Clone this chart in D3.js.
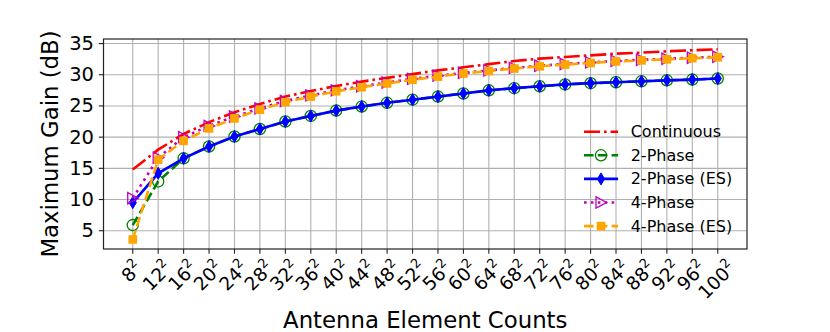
<!DOCTYPE html>
<html>
<head>
<meta charset="utf-8">
<script src="https://cdn.jsdelivr.net/npm/d3@7"></script>
<style>
  body { margin: 0; background: #fff; }
  text { font-family: "DejaVu Sans", sans-serif; fill: #000; }
</style>
</head>
<body>
<svg id="chart" width="830" height="332"></svg>
<script>
// antenna element counts (N, shown as N^2)
const counts = [8, 12, 16, 20, 24, 28, 32, 36, 40, 44, 48, 52, 56, 60, 64, 68, 72, 76, 80, 84, 88, 92, 96, 100];
const yTicks = [5, 10, 15, 20, 25, 30, 35];

const continuous = [14.8, 18.0, 20.5, 22.4, 24.0, 25.3, 26.5, 27.4, 28.2, 28.9, 29.5, 30.1, 30.7, 31.2, 31.7, 32.2, 32.58, 32.85, 33.1, 33.38, 33.55, 33.76, 33.92, 34.08];
const phase2 = [5.9, 12.9, 16.6, 18.5, 20.1, 21.3, 22.5, 23.4, 24.25, 24.9, 25.5, 26.0, 26.5, 27.0, 27.5, 27.85, 28.15, 28.45, 28.65, 28.8, 28.95, 29.1, 29.22, 29.4];
const phase2ES = [9.5, 14.2, 16.6, 18.5, 20.1, 21.3, 22.5, 23.4, 24.25, 24.9, 25.5, 26.0, 26.5, 27.0, 27.5, 27.85, 28.15, 28.45, 28.65, 28.8, 28.95, 29.1, 29.22, 29.4];
const phase4 = [10.2, 16.7, 20.0, 21.8, 23.3, 24.6, 25.8, 26.7, 27.5, 28.15, 28.75, 29.35, 29.85, 30.3, 30.7, 31.1, 31.45, 31.73, 31.98, 32.22, 32.4, 32.56, 32.73, 32.88];
const phase4ES = [3.6, 16.4, 19.4, 21.4, 23.0, 24.4, 25.6, 26.5, 27.35, 28.0, 28.6, 29.2, 29.7, 30.2, 30.6, 31.0, 31.35, 31.63, 31.88, 32.14, 32.3, 32.47, 32.65, 32.8];

const svg = d3.select("#chart");
const plotLeft = 103.5, plotRight = 747, plotTop = 39, plotBottom = 249;

const x = d3.scaleLinear().domain([-1.15, counts.length - 1 + 1.15]).range([plotLeft, plotRight]);
const y = d3.scaleLinear().domain([2.07, 35.73]).range([plotBottom, plotTop]);

// grid
const grid = svg.append("g");
grid.selectAll("line.vx")
  .data(counts)
  .enter()
  .append("line")
  .attr("x1", (d, i) => x(i)).attr("x2", (d, i) => x(i))
  .attr("y1", plotTop).attr("y2", plotBottom)
  .attr("stroke", "#b0b0b0").attr("stroke-width", 1.1);
grid.selectAll("line.hy")
  .data(yTicks)
  .enter()
  .append("line")
  .attr("x1", plotLeft).attr("x2", plotRight)
  .attr("y1", d => y(d)).attr("y2", d => y(d))
  .attr("stroke", "#b0b0b0").attr("stroke-width", 1.1);

// series
const lw = 2.6;
const series = [
  { name: "Continuous", values: continuous, color: "#ff0000", dash: [16, 4, 2.6, 4], marker: null },
  { name: "2-Phase", values: phase2, color: "#008000", dash: [9.6, 4.2], marker: "circle" },
  { name: "2-Phase (ES)", values: phase2ES, color: "#0000ff", dash: null, marker: "thin_diamond" },
  { name: "4-Phase", values: phase4, color: "#bf00bf", dash: [2.6, 4.3], marker: "triangle" },
  { name: "4-Phase (ES)", values: phase4ES, color: "#ffa500", dash: [9.6, 4.2], marker: "square" }
];

function drawMarker(g, type, color) {
  if (type === "circle") {
    g.append("circle").attr("r", 5.6).attr("fill", "none").attr("stroke", color).attr("stroke-width", 1.3);
  } else if (type === "thin_diamond") {
    g.append("path").attr("d", "M0,-6 L3.6,0 L0,6 L-3.6,0 Z").attr("fill", color).attr("stroke", color).attr("stroke-width", 1);
  } else if (type === "triangle") {
    g.append("path").attr("d", "M-5,-5.6 L5.6,0 L-5,5.6 Z").attr("fill", "none").attr("stroke", color).attr("stroke-width", 1.3);
  } else if (type === "square") {
    g.append("rect").attr("x", -4.3).attr("y", -4.3).attr("width", 8.6).attr("height", 8.6).attr("fill", color);
  }
}

const line = d3.line().x((d, i) => x(i)).y(d => y(d));

series.forEach(function(s) {
  const g = svg.append("g");
  g.append("path")
    .datum(s.values)
    .attr("d", line)
    .attr("fill", "none")
    .attr("stroke", s.color)
    .attr("stroke-width", lw)
    .attr("stroke-dasharray", s.dash ? s.dash.join(",") : null);
  if (s.marker) {
    s.values.forEach(function(v, i) {
      drawMarker(g.append("g").attr("transform", "translate(" + x(i) + "," + y(v) + ")"), s.marker, s.color);
    });
  }
});

// frame
svg.append("rect")
  .attr("x", plotLeft).attr("y", plotTop)
  .attr("width", plotRight - plotLeft).attr("height", plotBottom - plotTop)
  .attr("fill", "none").attr("stroke", "#222").attr("stroke-width", 1.2);

// y ticks
const yAxis = svg.append("g");
yTicks.forEach(function(t) {
  yAxis.append("line")
    .attr("x1", plotLeft - 4.7).attr("x2", plotLeft)
    .attr("y1", y(t)).attr("y2", y(t))
    .attr("stroke", "#222").attr("stroke-width", 1.1);
  yAxis.append("text")
    .attr("x", plotLeft - 9.5).attr("y", y(t))
    .attr("text-anchor", "end")
    .attr("dominant-baseline", "central")
    .style("font-size", "19.5px")
    .text(t);
});

// x ticks, rotated labels of the form N^2
const xAxis = svg.append("g");
counts.forEach(function(c, i) {
  xAxis.append("line")
    .attr("x1", x(i)).attr("x2", x(i))
    .attr("y1", plotBottom).attr("y2", plotBottom + 4.7)
    .attr("stroke", "#222").attr("stroke-width", 1.1);
  const t = xAxis.append("text").style("font-size", "18.5px");
  t.append("tspan").text(c);
  t.append("tspan").attr("dy", -8).style("font-size", "13px").text("2");
  const b = t.node().getBBox();
  const half = (b.width + b.height) / (2 * Math.SQRT2);
  t.attr("transform",
    "translate(" + (x(i) - 2) + "," + (plotBottom + 6 + half) + ") rotate(-45) translate(" +
    (-(b.x + b.width / 2)) + "," + (-(b.y + b.height / 2)) + ")");
});

// axis labels
svg.append("text")
  .attr("x", (plotLeft + plotRight) / 2).attr("y", 327.5)
  .attr("text-anchor", "middle")
  .style("font-size", "22.8px")
  .text("Antenna Element Counts");

svg.append("text")
  .attr("transform", "translate(50," + (plotTop + plotBottom) / 2 + ") rotate(-90)")
  .attr("text-anchor", "middle")
  .attr("dominant-baseline", "central")
  .style("font-size", "22.8px")
  .text("Maximum Gain (dB)");

// legend
const legend = svg.append("g");
series.forEach(function(s, k) {
  const ly = 131.7 + k * 23.6;
  const g = legend.append("g");
  g.append("line")
    .attr("x1", 584).attr("x2", 618)
    .attr("y1", ly).attr("y2", ly)
    .attr("stroke", s.color).attr("stroke-width", lw)
    .attr("stroke-dasharray", s.dash ? s.dash.join(",") : null);
  if (s.marker) drawMarker(g.append("g").attr("transform", "translate(601," + ly + ")"), s.marker, s.color);
  g.append("text")
    .attr("x", 630.7).attr("y", ly)
    .attr("dominant-baseline", "central")
    .style("font-size", "16px")
    .text(s.name);
});
</script>
</body>
</html>
